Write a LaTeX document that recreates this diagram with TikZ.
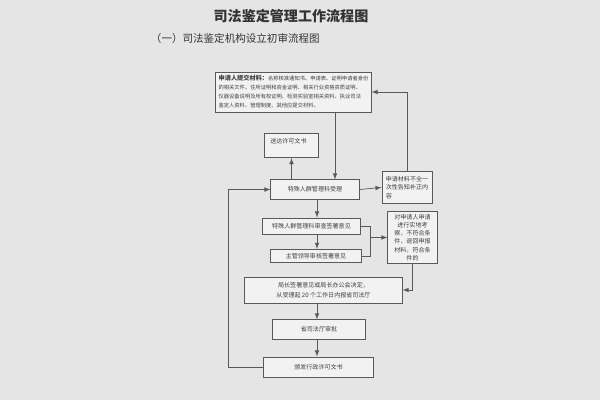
\documentclass[tikz,border=0pt]{standalone}
\usepackage{fontspec}
\setmainfont{Noto Sans CJK SC}
\tikzset{
  box/.style={draw=black!65, line width=0.7pt, fill=black!5, inner sep=1pt,
    align=center, text=black!75, font=\fontsize{4.3}{6}\selectfont},
  link/.style={->, draw=black!65, line width=0.5pt}
}
\begin{document}
\begin{tikzpicture}[>=latex, x=0.025cm, y=-0.025cm]
  % Page
  \fill[black!10] (0,0) rectangle (600,400);
  \useasboundingbox (0,0) rectangle (600,400);

  % Titles
  \node[font=\bfseries\fontsize{10}{12}\selectfont, text=black!80] (title) at (291,16) {司法鉴定管理工作流程图};
  \node[anchor=west, font=\fontsize{7.5}{9}\selectfont, text=black!80] (subtitle) at (146,38) {（一）司法鉴定机构设立初审流程图};

  % Coordinates
  \coordinate (spine) at (317,0);
  \coordinate (in1) at (335,0);
  \coordinate (join) at (370,0);
  \coordinate (loop) at (228,0);

  % Boxes
  \node[box, minimum width=3.88cm, minimum height=1cm, align=left,
    font=\fontsize{3.75}{6.4}\selectfont] (apply) at (293.5,92)
    {{\bfseries\fontsize{4.4}{6.4}\selectfont 申请人提交材料：}名称核准通知书、申请表、证明申请者身份\\
     的相关文件、住所证明和资金证明、相关行业资格资质证明、\\
     仪器设备说明及所有权证明、检测实验室相关资料、执业司法\\
     鉴定人资料、管理制度、其他应提交材料。};
  \node[box, minimum width=1.33cm, minimum height=0.6cm] (notify) at (291.5,145.5) {};
  \node[anchor=north west, text=black!75, inner sep=0pt, font=\fontsize{4.3}{6}\selectfont]
    (notifytext) at ([xshift=4pt,yshift=-3.5pt]notify.north west) {送达许可文书};
  \node[box, minimum width=2.2cm, minimum height=0.48cm] (accept) at (315,189.5) {特殊人群管理科受理};
  \node[box, minimum width=1.25cm, minimum height=0.78cm, align=left] (incomplete) at (407,187.5)
    {申请材料不全一\\次性告知补正内\\容};
  \node[box, minimum width=2.43cm, minimum height=0.4cm] (review) at (311.5,226) {特殊人群管理科审查签署意见};
  \node[box, minimum width=2.28cm, minimum height=0.33cm] (chief) at (316,256) {主管领导审核签署意见};
  \node[box, minimum width=1.23cm, minimum height=1.28cm, font=\fontsize{4.3}{5.8}\selectfont] (inspect) at (412.5,237.5)
    {对申请人申请\\进行实地考\\察，不符合条\\件，退回申报\\材料，符合条\\件的};
  \node[box, minimum width=3.93cm, minimum height=0.65cm, font=\fontsize{4.3}{7}\selectfont] (director) at (323.5,290)
    {局长签署意见或局长办公会决定，\\从受理起 20 个工作日内报省司法厅};
  \node[box, minimum width=2.3cm, minimum height=0.48cm] (province) at (319,329.5) {省司法厅审批};
  \node[box, minimum width=2.73cm, minimum height=0.5cm] (issue) at (318.5,367) {颁发行政许可文书};

  % Connectors
  \draw[link] (apply.south -| in1) -- (accept.north -| in1);
  \draw[link] (notify.south |- accept.north) -- (notify.south);
  \draw[link] (accept.east) -- (incomplete.west);
  \draw[link] (incomplete.north) |- (apply.east);
  \draw[link] (accept.south -| spine) -- (review.north -| spine);
  \draw[link] (review.south -| spine) -- (chief.north -| spine);
  \draw[draw=black!65, line width=0.5pt] (review.east) -- (review.east -| join) |- (chief.east);
  \draw[link] (join |- inspect.west) -- (inspect.west);
  \draw[link] (inspect.south) |- (director.east);
  \draw[link] (director.south -| spine) -- (province.north -| spine);
  \draw[link] (province.south -| spine) -- (issue.north -| spine);
  \draw[link] (issue.west) -- (issue.west -| loop) |- (accept.west);
\end{tikzpicture}
\end{document}
